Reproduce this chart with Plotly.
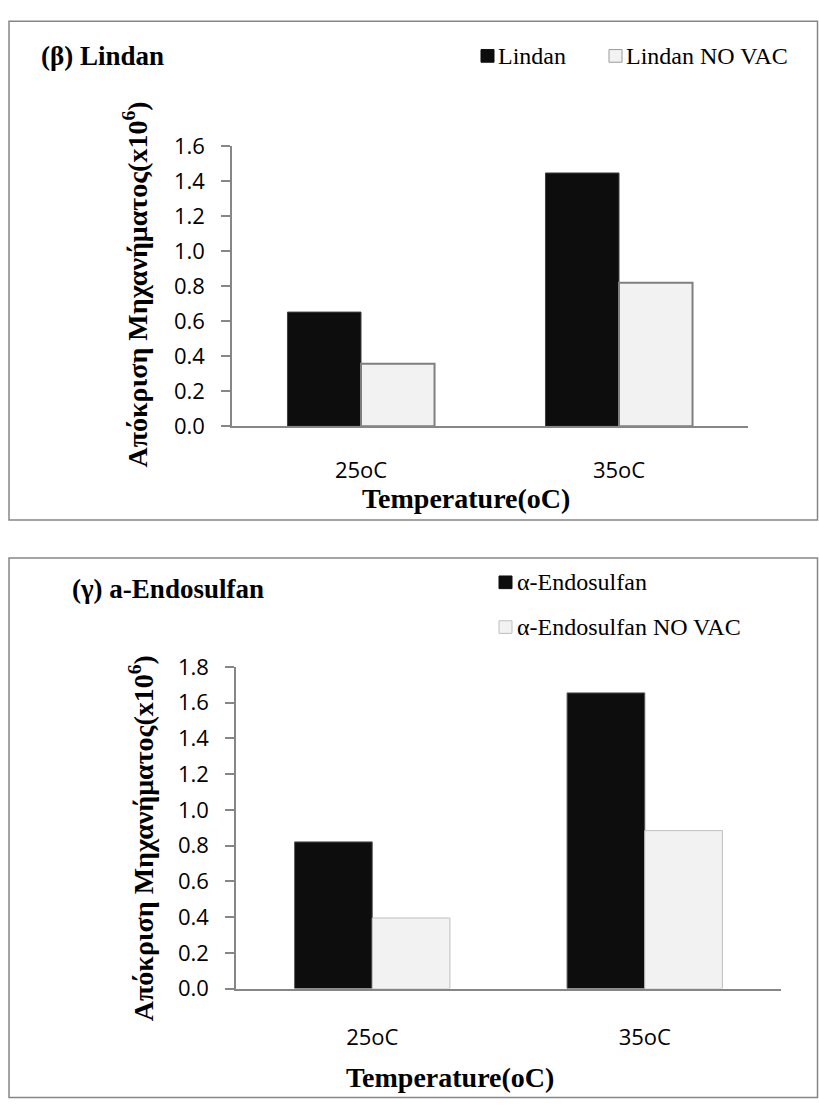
import plotly.graph_objects as go

# ---------------- data ----------------
categories = ["25oC", "35oC"]
lindan = [0.653, 1.448]
lindan_novac = [0.358, 0.820]
endo = [0.821, 1.655]
endo_novac = [0.395, 0.884]
y_ticks_top = [0.0, 0.2, 0.4, 0.6, 0.8, 1.0, 1.2, 1.4, 1.6]
y_ticks_bot = [0.0, 0.2, 0.4, 0.6, 0.8, 1.0, 1.2, 1.4, 1.6, 1.8]

W, H = 819, 1113


def px(x):
    return x / W


def py(y):
    return 1 - y / H


BLACK = "#0d0d0d"
LIGHT = "#f2f2f2"
AXIS = "#868686"
SERIF = "Liberation Serif, DejaVu Serif, serif"
SANS = "Open Sans"

fig = go.Figure()
fig.add_trace(go.Bar(x=categories, y=lindan, name="Lindan", xaxis="x", yaxis="y",
                     marker=dict(color=BLACK, line=dict(color="#404040", width=1))))
fig.add_trace(go.Bar(x=categories, y=lindan_novac, name="Lindan NO VAC", xaxis="x", yaxis="y",
                     marker=dict(color=LIGHT, line=dict(color="#7f7f7f", width=2))))
fig.add_trace(go.Bar(x=categories, y=endo, name="α-Endosulfan", xaxis="x2", yaxis="y2",
                     marker=dict(color=BLACK, line=dict(color="#595959", width=1))))
fig.add_trace(go.Bar(x=categories, y=endo_novac, name="α-Endosulfan NO VAC", xaxis="x2", yaxis="y2",
                     marker=dict(color=LIGHT, line=dict(color="#bfbfbf", width=1))))

yax_common = dict(showgrid=False, zeroline=False, showline=True, linecolor=AXIS, linewidth=1.5,
                  ticks="outside", ticklen=9, tickcolor=AXIS, tickwidth=1.5,
                  tickfont=dict(family=SANS, size=22, color="#000"), tickformat=".1f",
                  ticklabelstandoff=12)
xax_common = dict(showgrid=False, zeroline=False, showline=True, linecolor=AXIS, linewidth=1.5,
                  type="category", ticks="outside", tickcolor="rgba(0,0,0,0)",
                  tickfont=dict(family=SANS, size=22, color="#000"))

fig.update_layout(
    width=W, height=H,
    margin=dict(l=0, r=0, t=0, b=0),
    paper_bgcolor="white", plot_bgcolor="white",
    showlegend=False,
    barmode="group", bargap=0.43, bargroupgap=0,
    xaxis=dict(domain=[px(232), px(748)], anchor="y", ticklen=24, **xax_common),
    yaxis=dict(domain=[py(421.7), py(134)], anchor="x", range=[0, 1.6],
               tickvals=y_ticks_top, **yax_common),
    xaxis2=dict(domain=[px(236), px(781)], anchor="y2", ticklen=28, **xax_common),
    yaxis2=dict(domain=[py(999.5), py(669)], anchor="x2", range=[0, 1.8],
                tickvals=y_ticks_bot, **yax_common),
)

shapes = []
# frames
shapes.append(dict(type="rect", xref="paper", yref="paper", x0=px(9), x1=px(817.5), y0=py(518), y1=py(5.5),
                   line=dict(color=AXIS, width=1.5), fillcolor="rgba(0,0,0,0)", layer="below"))
shapes.append(dict(type="rect", xref="paper", yref="paper", x0=px(9), x1=px(817.5), y0=py(1111.5), y1=py(557),
                   line=dict(color=AXIS, width=1.5), fillcolor="rgba(0,0,0,0)", layer="below"))


def swatch(x, yc, fill, edge):
    return dict(type="rect", xref="paper", yref="paper", x0=px(x), x1=px(x + 13),
                y0=py(yc + 6.5), y1=py(yc - 6.5), fillcolor=fill, line=dict(color=edge, width=1))


shapes += [swatch(481, 41, BLACK, BLACK), swatch(609, 41, LIGHT, "#9a9a9a"),
           swatch(499, 582, BLACK, BLACK), swatch(499, 628, LIGHT, "#bfbfbf")]
fig.update_layout(shapes=shapes)

ann = []


def text(x, y, s, size, bold=False, xanchor="left", angle=0):
    ann.append(dict(xref="paper", yref="paper", x=px(x), y=py(y), text=f"<b>{s}</b>" if bold else s,
                    showarrow=False, xanchor=xanchor, yanchor="middle", textangle=angle,
                    font=dict(family=SERIF, size=size, color="#000")))


text(39, 41, "(β) Lindan", 27, bold=True)
text(496, 41, "Lindan", 24)
text(624, 41, "Lindan NO VAC", 24)
text(466, 496, "Temperature(oC)", 28, bold=True, xanchor="center")
text(136, 276, "Απόκριση Μηχανήματος(x10<sup>6</sup>)", 28, bold=True, xanchor="center", angle=-90)

text(70, 589, "(γ) a-Endosulfan", 27, bold=True)
text(515, 582, "α-Endosulfan", 24)
text(515, 628, "α-Endosulfan NO VAC", 24)
text(450, 1091, "Temperature(oC)", 28, bold=True, xanchor="center")
text(141, 845, "Απόκριση Μηχανήματος(x10<sup>6</sup>)", 28, bold=True, xanchor="center", angle=-90)

fig.update_layout(annotations=ann)
fig.write_html("out.html")
